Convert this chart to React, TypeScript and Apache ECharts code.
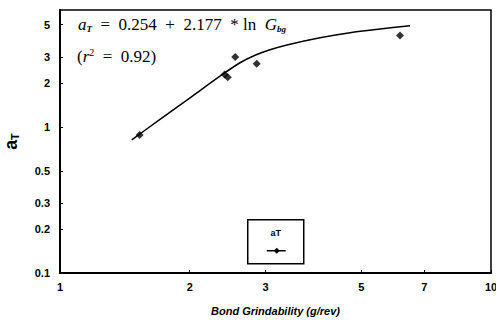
import React, { useEffect, useRef } from "react";
import * as echarts from "echarts";

// Measured points: Bond grindability (g/rev) vs a_T
const gbg = [1.53, 2.41, 2.45, 2.55, 2.86, 6.15];
const aT = [0.88, 2.28, 2.18, 3.0, 2.7, 4.22];

// Fitted curve as drawn
const fitX = [1.467, 1.706, 2.003, 2.351, 2.616, 2.835, 3.07, 3.418, 4.012, 4.709, 5.526, 6.487];
const fitY = [0.815, 1.124, 1.58, 2.222, 2.744, 3.088, 3.369, 3.674, 4.07, 4.404, 4.668, 4.918];

const xTicks = [1, 2, 3, 5, 7, 10];
const yTicks = [0.1, 0.2, 0.3, 0.5, 1, 2, 3, 5];

const fmt = (v: number) => String(Number(Number(v).toPrecision(3)));

export default function App() {
  const ref = useRef<HTMLDivElement>(null);
  useEffect(() => {
    if (!ref.current) return;
    const chart = echarts.init(ref.current, null, { renderer: "svg" });
    const labelStyle = {
      color: "#000",
      fontFamily: "Liberation Sans",
      fontWeight: "bold" as const,
      fontSize: 11,
    };
    chart.setOption({
      animation: false,
      backgroundColor: "#fff",
      grid: {
        left: 60,
        right: 5,
        top: 10,
        bottom: 48,
        containLabel: false,
        outerBoundsMode: "none",
        show: true,
        borderColor: "#000",
        borderWidth: 1.5,
      },
      xAxis: {
        type: "log",
        logBase: 10,
        min: 1,
        max: 10,
        name: "Bond Grindability (g/rev)",
        nameLocation: "middle",
        nameGap: 32,
        nameTextStyle: {
          color: "#000",
          fontFamily: "Liberation Sans",
          fontWeight: "bold",
          fontStyle: "italic",
          fontSize: 11,
        },
        axisLine: { show: true, lineStyle: { color: "#000", width: 2 } },
        axisTick: { show: true, inside: true, length: 3, customValues: xTicks, lineStyle: { color: "#000" } },
        axisLabel: { ...labelStyle, margin: 8, customValues: xTicks, formatter: fmt },
        splitLine: { show: false },
        minorTick: { show: false },
      },
      yAxis: {
        type: "log",
        logBase: 10,
        min: 0.1,
        max: 6.3,
        name: "{a|a}{t|T}",
        nameLocation: "middle",
        nameGap: 40,
        nameRotate: 90,
        nameTextStyle: {
          rich: {
            a: { fontFamily: "Liberation Sans", fontWeight: "bold", fontSize: 18, color: "#000" },
            t: { fontFamily: "Liberation Sans", fontWeight: "bold", fontSize: 11, color: "#000", verticalAlign: "bottom", padding: [6, 0, 0, 0] },
          },
        },
        axisLine: { show: true, lineStyle: { color: "#000", width: 2 } },
        axisTick: { show: true, inside: true, length: 3, customValues: yTicks, lineStyle: { color: "#000" } },
        axisLabel: { ...labelStyle, margin: 10, customValues: yTicks, formatter: fmt },
        splitLine: { show: false },
      },
      series: [
        {
          name: "fit",
          type: "line",
          smooth: 0.3,
          showSymbol: false,
          symbol: "none",
          data: fitX.map((x, i) => [x, fitY[i]]),
          lineStyle: { color: "#000", width: 1.5 },
          z: 2,
        },
        {
          name: "aT",
          type: "scatter",
          symbol: "diamond",
          symbolSize: 8,
          data: gbg.map((x, i) => [x, aT[i]]),
          itemStyle: { color: "#000" },
          z: 3,
        },
      ],
      graphic: [
        {
          type: "text",
          left: 78,
          top: 16,
          style: {
            text: "{i|a}{s|T}{n|  =  0.254  +  2.177  * ln  }{i|G}{s|bg}",
            rich: {
              i: { fontFamily: "Liberation Serif", fontStyle: "italic", fontSize: 17, fill: "#000" },
              n: { fontFamily: "Liberation Serif", fontSize: 17, fill: "#000" },
              s: { fontFamily: "Liberation Serif", fontStyle: "italic", fontWeight: "bold", fontSize: 9, fill: "#000", padding: [9, 0, 0, 0] },
            },
          },
        },
        {
          type: "text",
          left: 77,
          top: 47,
          style: {
            text: "{n|(}{i|r}{p|2}{n|  =  0.92)}",
            rich: {
              i: { fontFamily: "Liberation Serif", fontStyle: "italic", fontSize: 17, fill: "#000" },
              n: { fontFamily: "Liberation Serif", fontSize: 17, fill: "#000" },
              p: { fontFamily: "Liberation Serif", fontSize: 10, fill: "#000", padding: [0, 0, 8, 0] },
            },
          },
        },
        {
          type: "group",
          left: 247,
          top: 219,
          children: [
            { type: "rect", shape: { x: 0, y: 0, width: 56, height: 44 }, style: { fill: "#fff", stroke: "#000", lineWidth: 1.5 } },
            {
              type: "text",
              x: 28,
              y: 13,
              style: { text: "aT", fontFamily: "Liberation Sans", fontWeight: "bold", fontSize: 9, fill: "#000", align: "center", verticalAlign: "middle" },
            },
            { type: "line", shape: { x1: 19, y1: 31, x2: 38, y2: 31 }, style: { stroke: "#000", lineWidth: 1.5 } },
            { type: "polygon", shape: { points: [[29, 28], [32, 31], [29, 34], [26, 31]] }, style: { fill: "#000" } },
          ],
        },
      ],
    });
    return () => chart.dispose();
  }, []);
  return <div ref={ref} style={{ width: 496, height: 321, position: "absolute", left: 0, top: 0 }} />;
}
